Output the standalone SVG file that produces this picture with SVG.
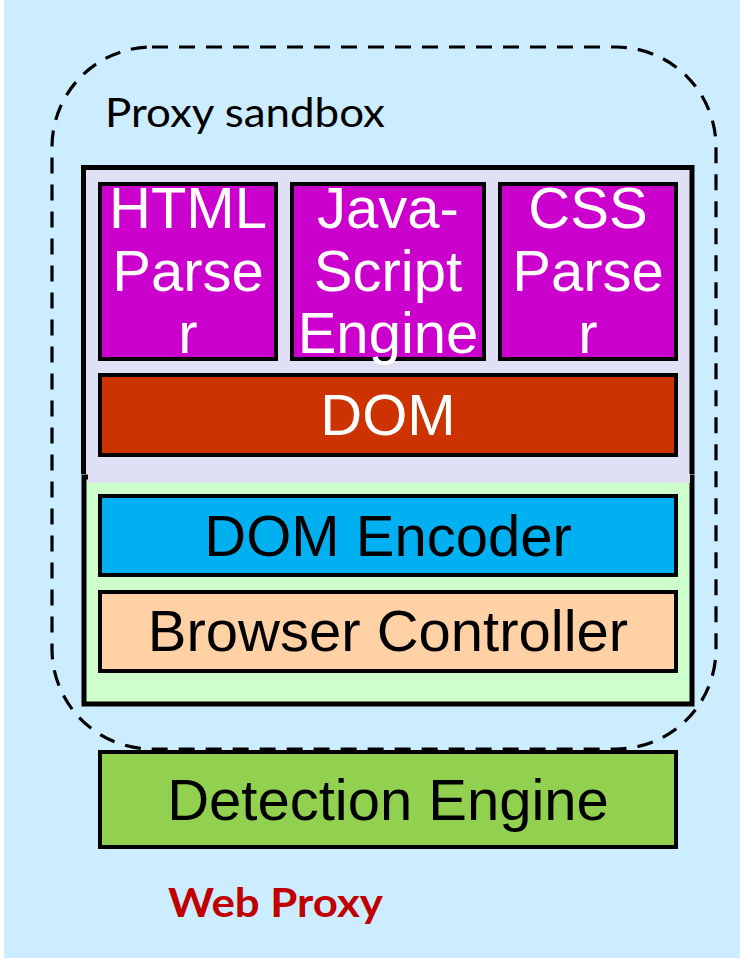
<svg xmlns="http://www.w3.org/2000/svg" width="740" height="958" viewBox="0 0 740 958">
  <style>
    .box { stroke: #000; stroke-width: 4; }
    .label { font-family: "Liberation Sans", Arial, sans-serif; font-size: 58px; text-anchor: middle; }
    .light { fill: #fff; }
    .dark { fill: #000; }
    .caption { font-family: Lato, "Open Sans", sans-serif; font-size: 41px; }
  </style>

  <!-- page background -->
  <rect x="0" y="0" width="740" height="958" fill="#fff"/>
  <rect x="4" y="0" width="736" height="958" fill="#CCECFF"/>

  <!-- rendering layer panel (lavender, open at the bottom) -->
  <g id="render-panel">
    <rect x="86" y="170" width="604" height="313" fill="#E0E0F5"/>
    <path d="M83.5 474 V167.5 H692 V474" fill="none" stroke="#000" stroke-width="5"/>
  </g>

  <!-- control layer panel (light green) -->
  <g id="control-panel">
    <rect x="84" y="477" width="608" height="227" fill="#CCFFCC" stroke="#000" stroke-width="5"/>
    <rect x="88" y="474" width="602" height="9" fill="#E0E0F5"/>
  </g>

  <g id="html-parser">
    <rect class="box" x="100" y="184" width="176" height="175" fill="#CC00CC"/>
    <text class="label light" x="188" y="228">HTML</text>
    <text class="label light" x="188" y="291">Parse</text>
    <text class="label light" x="188" y="353">r</text>
  </g>

  <g id="javascript-engine">
    <rect class="box" x="292" y="184" width="192" height="175" fill="#CC00CC"/>
    <text class="label light" x="388" y="228">Java-</text>
    <text class="label light" x="388" y="291">Script</text>
    <text class="label light" x="388" y="353">Engine</text>
  </g>

  <g id="css-parser">
    <rect class="box" x="500" y="184" width="176" height="175" fill="#CC00CC"/>
    <text class="label light" x="588" y="228">CSS</text>
    <text class="label light" x="588" y="291">Parse</text>
    <text class="label light" x="588" y="353">r</text>
  </g>

  <g id="dom">
    <rect class="box" x="100" y="375" width="576" height="80" fill="#CC3300"/>
    <text class="label light" x="388" y="435">DOM</text>
  </g>

  <g id="dom-encoder">
    <rect class="box" x="100" y="496" width="576" height="79" fill="#00B0F0"/>
    <text class="label dark" x="388" y="556">DOM Encoder</text>
  </g>

  <g id="browser-controller">
    <rect class="box" x="100" y="592" width="576" height="79" fill="#FFD1A4"/>
    <text class="label dark" x="388" y="651">Browser Controller</text>
  </g>

  <g id="detection-engine">
    <rect class="box" x="100" y="752" width="576" height="95" fill="#92D050"/>
    <text class="label dark" x="388" y="820">Detection Engine</text>
  </g>

  <!-- sandbox boundary -->
  <g id="sandbox">
    <rect x="52" y="47" width="664" height="702" rx="100" ry="100" fill="none" stroke="#000" stroke-width="3.2" stroke-dasharray="16 11"/>
    <text class="caption" x="105" y="127" textLength="280" lengthAdjust="spacingAndGlyphs" fill="#000">Proxy sandbox</text>
  </g>

  <g id="web-proxy">
    <text class="caption" x="168" y="917" textLength="215" lengthAdjust="spacingAndGlyphs" font-weight="bold" fill="#C00000">Web Proxy</text>
  </g>

  <!-- connectors: none drawn between blocks -->
  <g id="connectors"/>
</svg>
